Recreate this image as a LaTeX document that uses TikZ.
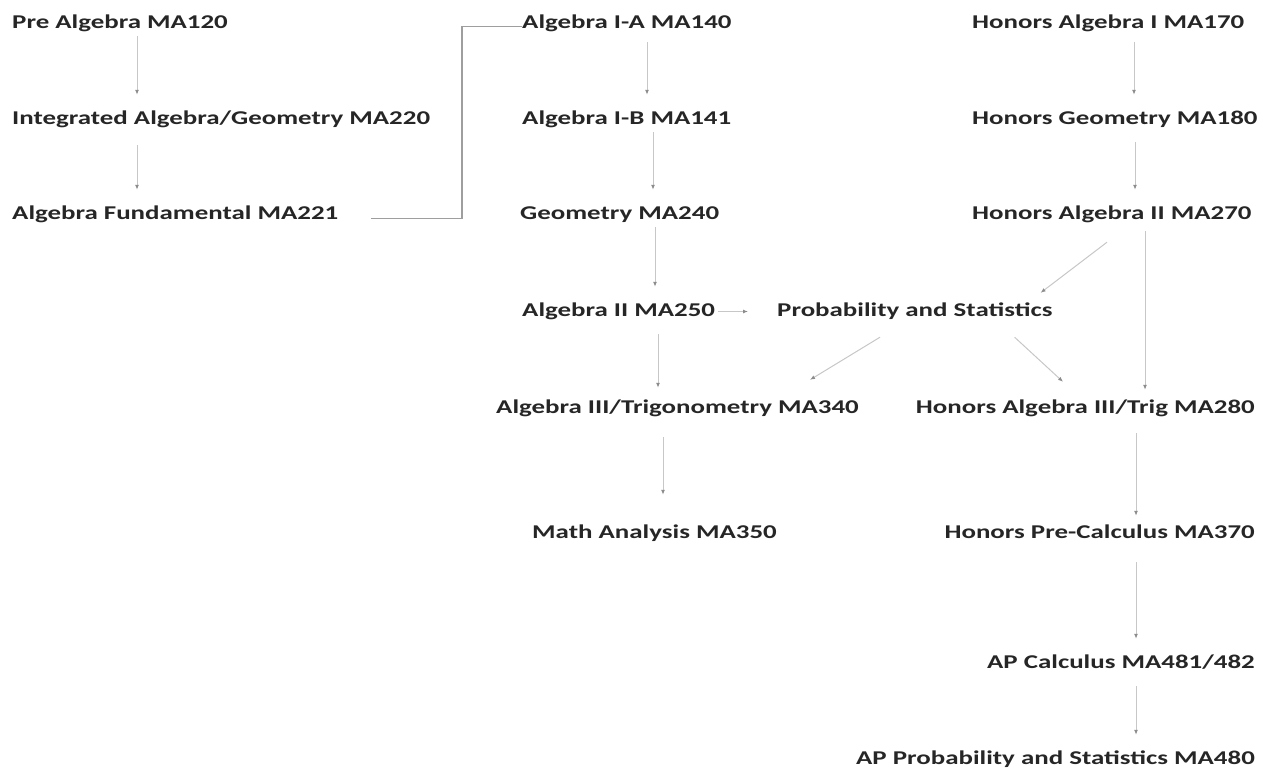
\documentclass[tikz,border=0pt]{standalone}
\usepackage{fontspec}
\setmainfont{Carlito}[FakeStretch=1.38]
\usepackage{tikz}
\usetikzlibrary{arrows.meta}

\begin{document}
\begin{tikzpicture}[x=1pt, y=-1pt,
  course/.style = {font=\fontsize{19.5}{20}\selectfont\bfseries, text=black!85, inner sep=0pt, text height=13pt, text depth=4pt},
  arr/.style = {-{Latex[length=5pt,width=4pt,color=black!45]}, draw=black!22, line width=1pt, shorten <=4pt, shorten >=16pt},
  link/.style = {draw=black!38, line width=1.2pt}]
  \useasboundingbox (0,0) rectangle (1271,772);

  % left column
  \node[course, anchor=base west] (pa) at (12,28) {Pre Algebra MA120};
  \node[course, anchor=base west] (ia) at (12,124) {Integrated Algebra/Geometry MA220};
  \node[course, anchor=base west] (af) at (12,219) {Algebra Fundamental MA221};

  % middle column
  \node[course, anchor=base west] (a1) at (522,28) {Algebra I-A MA140};
  \node[course, anchor=base west] (a2) at (522,124) {Algebra I-B MA141};
  \node[course, anchor=base west] (ge) at (520,219) {Geometry MA240};
  \node[course, anchor=base west] (a3) at (522,316) {Algebra II MA250};
  \node[course, anchor=base west] (ps) at (777,316) {Probability and Statistics};
  \node[course, anchor=base west] (t3) at (496,413) {Algebra III/Trigonometry MA340};
  \node[course, anchor=base west] (ma) at (532,538) {Math Analysis MA350};

  % honors column
  \node[course, anchor=base west] (h1) at (972,28) {Honors Algebra I MA170};
  \node[course, anchor=base west] (hg) at (972,124) {Honors Geometry MA180};
  \node[course, anchor=base west] (h2) at (972,219) {Honors Algebra II MA270};
  \node[course, anchor=base east] (h3) at (1255,413) {Honors Algebra III/Trig MA280};
  \node[course, anchor=base east] (hp) at (1255,538) {Honors Pre-Calculus MA370};
  \node[course, anchor=base east] (ac) at (1255,668) {AP Calculus MA481/482};
  \node[course, anchor=base east] (ap) at (1255,764) {AP Probability and Statistics MA480};

  \draw[arr] (137,0 |- pa.south) -- (137,0 |- ia.north);
  \draw[arr, shorten <=17pt] (137,0 |- ia.south) -- (137,0 |- af.north);
  \draw[link] ([xshift=33pt,yshift=-4pt]af.east) -| ([xshift=-60pt,yshift=-3pt]a1.west) -- ([yshift=-3pt]a1.west);

  \draw[arr, shorten <=10pt] (647,0 |- a1.south) -- (647,0 |- a2.north);
  \draw[arr] (653,0 |- a2.south) -- (653,0 |- ge.north);
  \draw[arr] (655,0 |- ge.south) -- (655,0 |- a3.north);
  \draw[arr, shorten <=14pt, shorten >=12pt] (658,0 |- a3.south) -- (658,0 |- t3.north);
  \draw[arr, shorten <=3pt, shorten >=29pt] (a3.east) -- (ps.west);
  \draw[arr, shorten <=0pt, shorten >=0pt] ([xshift=103pt,yshift=-17pt]ps.south west) -- ([xshift=-49pt,yshift=20pt]t3.north east);
  \draw[arr, shorten <=20pt, shorten >=30pt] (663,0 |- t3.south) -- (663,0 |- ma.north);

  \draw[arr, shorten <=10pt] (1134,0 |- h1.south) -- (1134,0 |- hg.north);
  \draw[arr, shorten <=14pt] (1135,0 |- hg.south) -- (1135,0 |- h2.north);
  \draw[arr, shorten <=0pt, shorten >=0pt] ([xshift=135pt,yshift=-19pt]h2.south west) -- ([xshift=-12pt,yshift=10pt]ps.north east);
  \draw[arr, shorten <=0pt, shorten >=0pt] ([xshift=-38pt,yshift=-17pt]ps.south east) -- ([xshift=-192pt,yshift=18pt]h3.north east);
  \draw[arr, shorten <=8pt, shorten >=10pt] (1145,0 |- h2.south) -- (1145,0 |- h3.north);
  \draw[arr, shorten <=16pt, shorten >=9pt] (1136,0 |- h3.south) -- (1136,0 |- hp.north);
  \draw[arr, shorten <=20pt] (1136,0 |- hp.south) -- (1136,0 |- ac.north);
  \draw[arr, shorten <=14pt] (1136,0 |- ac.south) -- (1136,0 |- ap.north);
\end{tikzpicture}
\end{document}
